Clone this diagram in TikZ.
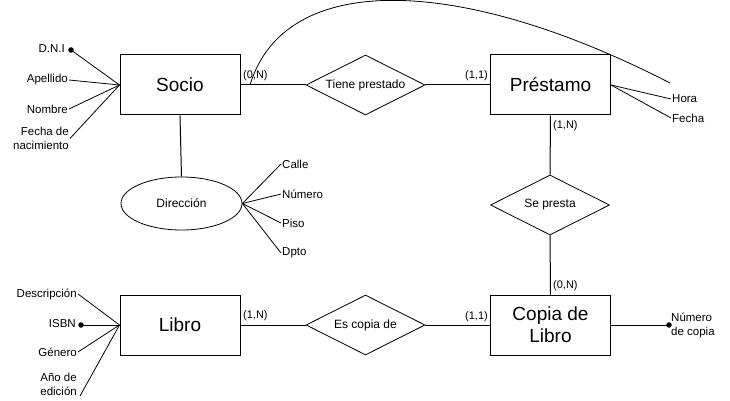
\documentclass[tikz,border=0pt]{standalone}
\usepackage{fontspec}
\setmainfont{Liberation Sans}
\usetikzlibrary{shapes.geometric}
\tikzset{
  entity/.style={draw, line width=1pt, minimum width=120pt, minimum height=60pt, inner sep=0pt, font=\fontsize{19}{22}\selectfont, align=center},
  relation/.style={draw, line width=0.8pt, diamond, aspect=2, minimum width=119pt, minimum height=60pt, inner sep=0pt, font=\fontsize{12}{14}\selectfont},
  multi/.style={draw, line width=0.8pt, ellipse, minimum width=121pt, minimum height=53pt, inner sep=0pt, font=\fontsize{12}{14}\selectfont},
  attr/.style={inner sep=1pt, font=\fontsize{11.5}{14.5}\selectfont},
  card/.style={inner sep=0pt, font=\fontsize{11}{13}\selectfont},
  keydot/.style={circle, fill=black, minimum size=5.5pt, inner sep=0pt},
  conn/.style={line width=0.8pt},
  link/.style={line width=1pt}
}
\begin{document}
\begin{tikzpicture}[x=1pt,y=-1pt]
\useasboundingbox[fill=white] (0,0) rectangle (730,401);

% entities
\node[entity] (socio) at (180,85) {Socio};
\node[entity] (prestamo) at (550.5,85) {Préstamo};
\node[entity] (libro) at (180,325) {Libro};
\node[entity] (copia) at (550.5,325) {Copia de\\Libro};

% relations
\node[relation] (tiene) at (365.5,85) {Tiene prestado};
\node[relation] (sepresta) at (550,205) {Se presta};
\node[relation] (escopia) at (365.5,325) {Es copia de};

% composite attribute
\node[multi] (dir) at (181.5,203.5) {Dirección};

% links
\draw[link] (socio) -- (tiene);
\draw[link] (tiene) -- (prestamo);
\draw[link] (prestamo) -- (sepresta);
\draw[link] (sepresta) -- (copia);
\draw[link] (libro) -- (escopia);
\draw[link] (escopia) -- (copia);
\draw[link] (socio.south) -- (dir.north);

% cardinalities
\node[card, anchor=west] (c1) at (243,76) {(0,N)};
\node[card, anchor=east] (c2) at (488,76) {(1,1)};
\node[card, anchor=west] (c3) at (553,126) {(1,N)};
\node[card, anchor=west] (c4) at (553,286) {(0,N)};
\node[card, anchor=east] (c5) at (488,317) {(1,1)};
\node[card, anchor=west] (c6) at (243,316) {(1,N)};

% Socio attributes
\node[keydot] (dnidot) at (71,50) {};
\node[attr, anchor=east] (dni) at (66,49) {D.N.I};
\node[attr, anchor=east] (apellido) at (69,80) {Apellido};
\node[attr, anchor=east] (nombre) at (69,109) {Nombre};
\node[attr, anchor=east, align=right] (fecnac) at (70,138.5) {Fecha de\\nacimiento};
\draw[conn] (dnidot.center) -- (socio.west);
\draw[conn] (apellido.east) -- (socio.west);
\draw[conn] (nombre.east) -- (socio.west);
\draw[conn] (fecnac.east) -- (socio.west);

% Préstamo attributes
\node[attr, anchor=west] (hora) at (671,99) {Hora};
\node[attr, anchor=west] (fecha) at (671,118) {Fecha};
\draw[conn] (prestamo.east) -- (hora.west);
\draw[conn] (prestamo.east) -- (fecha.west);

% Dirección components
\node[attr, anchor=west] (calle) at (281,164) {Calle};
\node[attr, anchor=west] (numero) at (281,194) {Número};
\node[attr, anchor=west] (piso) at (281,223) {Piso};
\node[attr, anchor=west] (dpto) at (281,253) {Dpto};
\draw[conn] (dir.east) -- (calle.west);
\draw[conn] (dir.east) -- (numero.west);
\draw[conn] (dir.east) -- (piso.west);
\draw[conn] (dir.east) -- (dpto.west);

% Libro attributes
\node[attr, anchor=east] (desc) at (78,294) {Descripción};
\node[keydot] (isbndot) at (81,325) {};
\node[attr, anchor=east] (isbn) at (77,324) {ISBN};
\node[attr, anchor=east] (genero) at (78,352) {Género};
\node[attr, anchor=east, align=right] (anio) at (78,384.5) {Año de\\edición};
\coordinate (anioend) at (80,396);
\draw[conn] (desc.east) -- (libro.west);
\draw[conn] (isbndot.center) -- (libro.west);
\draw[conn] (genero.east) -- (libro.west);
\draw[conn] (anioend) -- (libro.west);

% Copia de Libro attribute
\node[keydot] (ncdot) at (669,325) {};
\node[attr, anchor=west, align=left] (ncopia) at (670,325.5) {Número\\de copia};
\draw[conn] (copia.east) -- (ncdot.center);

% curved connector
\coordinate (curvea) at (250,85);
\coordinate (curveb) at (670,83);
\draw[conn] (curvea) .. controls (285,-30) and (460,-25) .. (curveb);
\end{tikzpicture}
\end{document}
